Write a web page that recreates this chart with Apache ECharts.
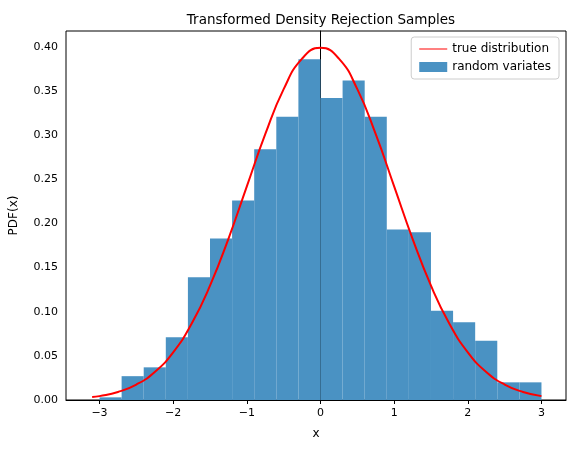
<!DOCTYPE html>
<html><head><meta charset="utf-8">
<script src="https://cdn.jsdelivr.net/npm/echarts@6/dist/echarts.min.js"></script>
<style>html,body{margin:0;padding:0;background:#fff}#c{width:576px;height:453px}</style>
</head><body><div id="c"></div>
<script>
const binStarts=[-3.0,-2.7,-2.4,-2.1,-1.8,-1.5,-1.2,-0.9,-0.6,-0.3,0.0,0.3,0.6,0.9,1.2,1.5,1.8,2.1,2.4,2.7];
const binWidth=0.3;
const binValues=[0.003,0.027,0.037,0.071,0.139,0.183,0.226,0.284,0.321,0.386,0.342,0.362,0.321,0.193,0.190,0.101,0.088,0.067,0.020,0.020];
const curveX=[-3.1,-3.0,-2.75,-2.5,-2.25,-2.0,-1.75,-1.5,-1.25,-1.0,-0.75,-0.5,-0.25,0,0.25,0.5,0.75,1.0,1.25,1.5,1.75,2.0,2.25,2.5,2.75,3.0];
const curveY=[0.0033,0.0044,0.0091,0.0175,0.0317,0.0540,0.0863,0.1295,0.1826,0.2420,0.3011,0.3521,0.3867,0.3989,0.3867,0.3521,0.3011,0.2420,0.1826,0.1295,0.0863,0.0540,0.0317,0.0175,0.0091,0.0044];
const xTicks=[-3,-2,-1,0,1,2,3];
const yTicks=[0,0.05,0.10,0.15,0.20,0.25,0.30,0.35,0.40];
const font='DejaVu Sans';
const chart=echarts.init(document.getElementById('c'));
chart.setOption({
  animation:false,
  textStyle:{fontFamily:font},
  title:{text:'Transformed Density Rejection Samples',left:316,top:8,textAlign:'center',textStyle:{fontSize:13.5,fontWeight:'normal',color:'#000',fontFamily:font}},
  grid:{left:65,right:10,top:31,bottom:53,show:true,borderColor:'#000',borderWidth:1,backgroundColor:'transparent'},
  legend:{right:17,top:37,orient:'vertical',itemGap:6,itemWidth:28,itemHeight:10,borderColor:'#ccc',borderWidth:1,borderRadius:3,padding:[6,8],textStyle:{fontSize:12,color:'#000',fontFamily:font},
    data:[{name:'true distribution',icon:'path://M0,4.5L28,4.5L28,5.5L0,5.5Z'},{name:'random variates',icon:'rect'}]},
  xAxis:{type:'value',min:-3.455,max:3.333,name:'x',nameLocation:'middle',nameGap:28,nameTextStyle:{fontSize:12,color:'#000'},
    axisLine:{show:true,onZero:false,lineStyle:{color:'#000'}},splitLine:{show:false},
    axisTick:{show:true,customValues:xTicks,length:4,lineStyle:{color:'#000'}},
    axisLabel:{customValues:xTicks,fontSize:11,color:'#000',formatter:v=>v<0?'\u2212'+Math.abs(v):String(v)}},
  yAxis:{type:'value',min:0,max:0.418,name:'PDF(x)',nameLocation:'middle',nameGap:46,nameTextStyle:{fontSize:12,color:'#000'},
    axisLine:{show:true,lineStyle:{color:'#000'}},splitLine:{show:false},
    axisTick:{show:true,customValues:yTicks,length:4,lineStyle:{color:'#000'}},
    axisLabel:{customValues:yTicks,fontSize:11,color:'#000',formatter:v=>v.toFixed(2)}},
  series:[
    {name:'random variates',type:'custom',itemStyle:{color:'#4a92c3'},
     data:binStarts.map((s,i)=>[s,binValues[i]]),
     renderItem:(p,api)=>{const x0=api.value(0),h=api.value(1);const a=api.coord([x0,h]),b=api.coord([x0+binWidth,0]);
       return {type:'rect',shape:{x:a[0],y:a[1],width:b[0]-a[0],height:b[1]-a[1]},style:{fill:'#4a92c3'}};},z:1},
    {name:'true distribution',type:'line',smooth:true,showSymbol:false,symbol:'none',lineStyle:{color:'#ff0000',width:2},itemStyle:{color:'#ff0000'},
     data:curveX.map((x,i)=>[x,curveY[i]]),z:3}
  ]
});
</script></body></html>
